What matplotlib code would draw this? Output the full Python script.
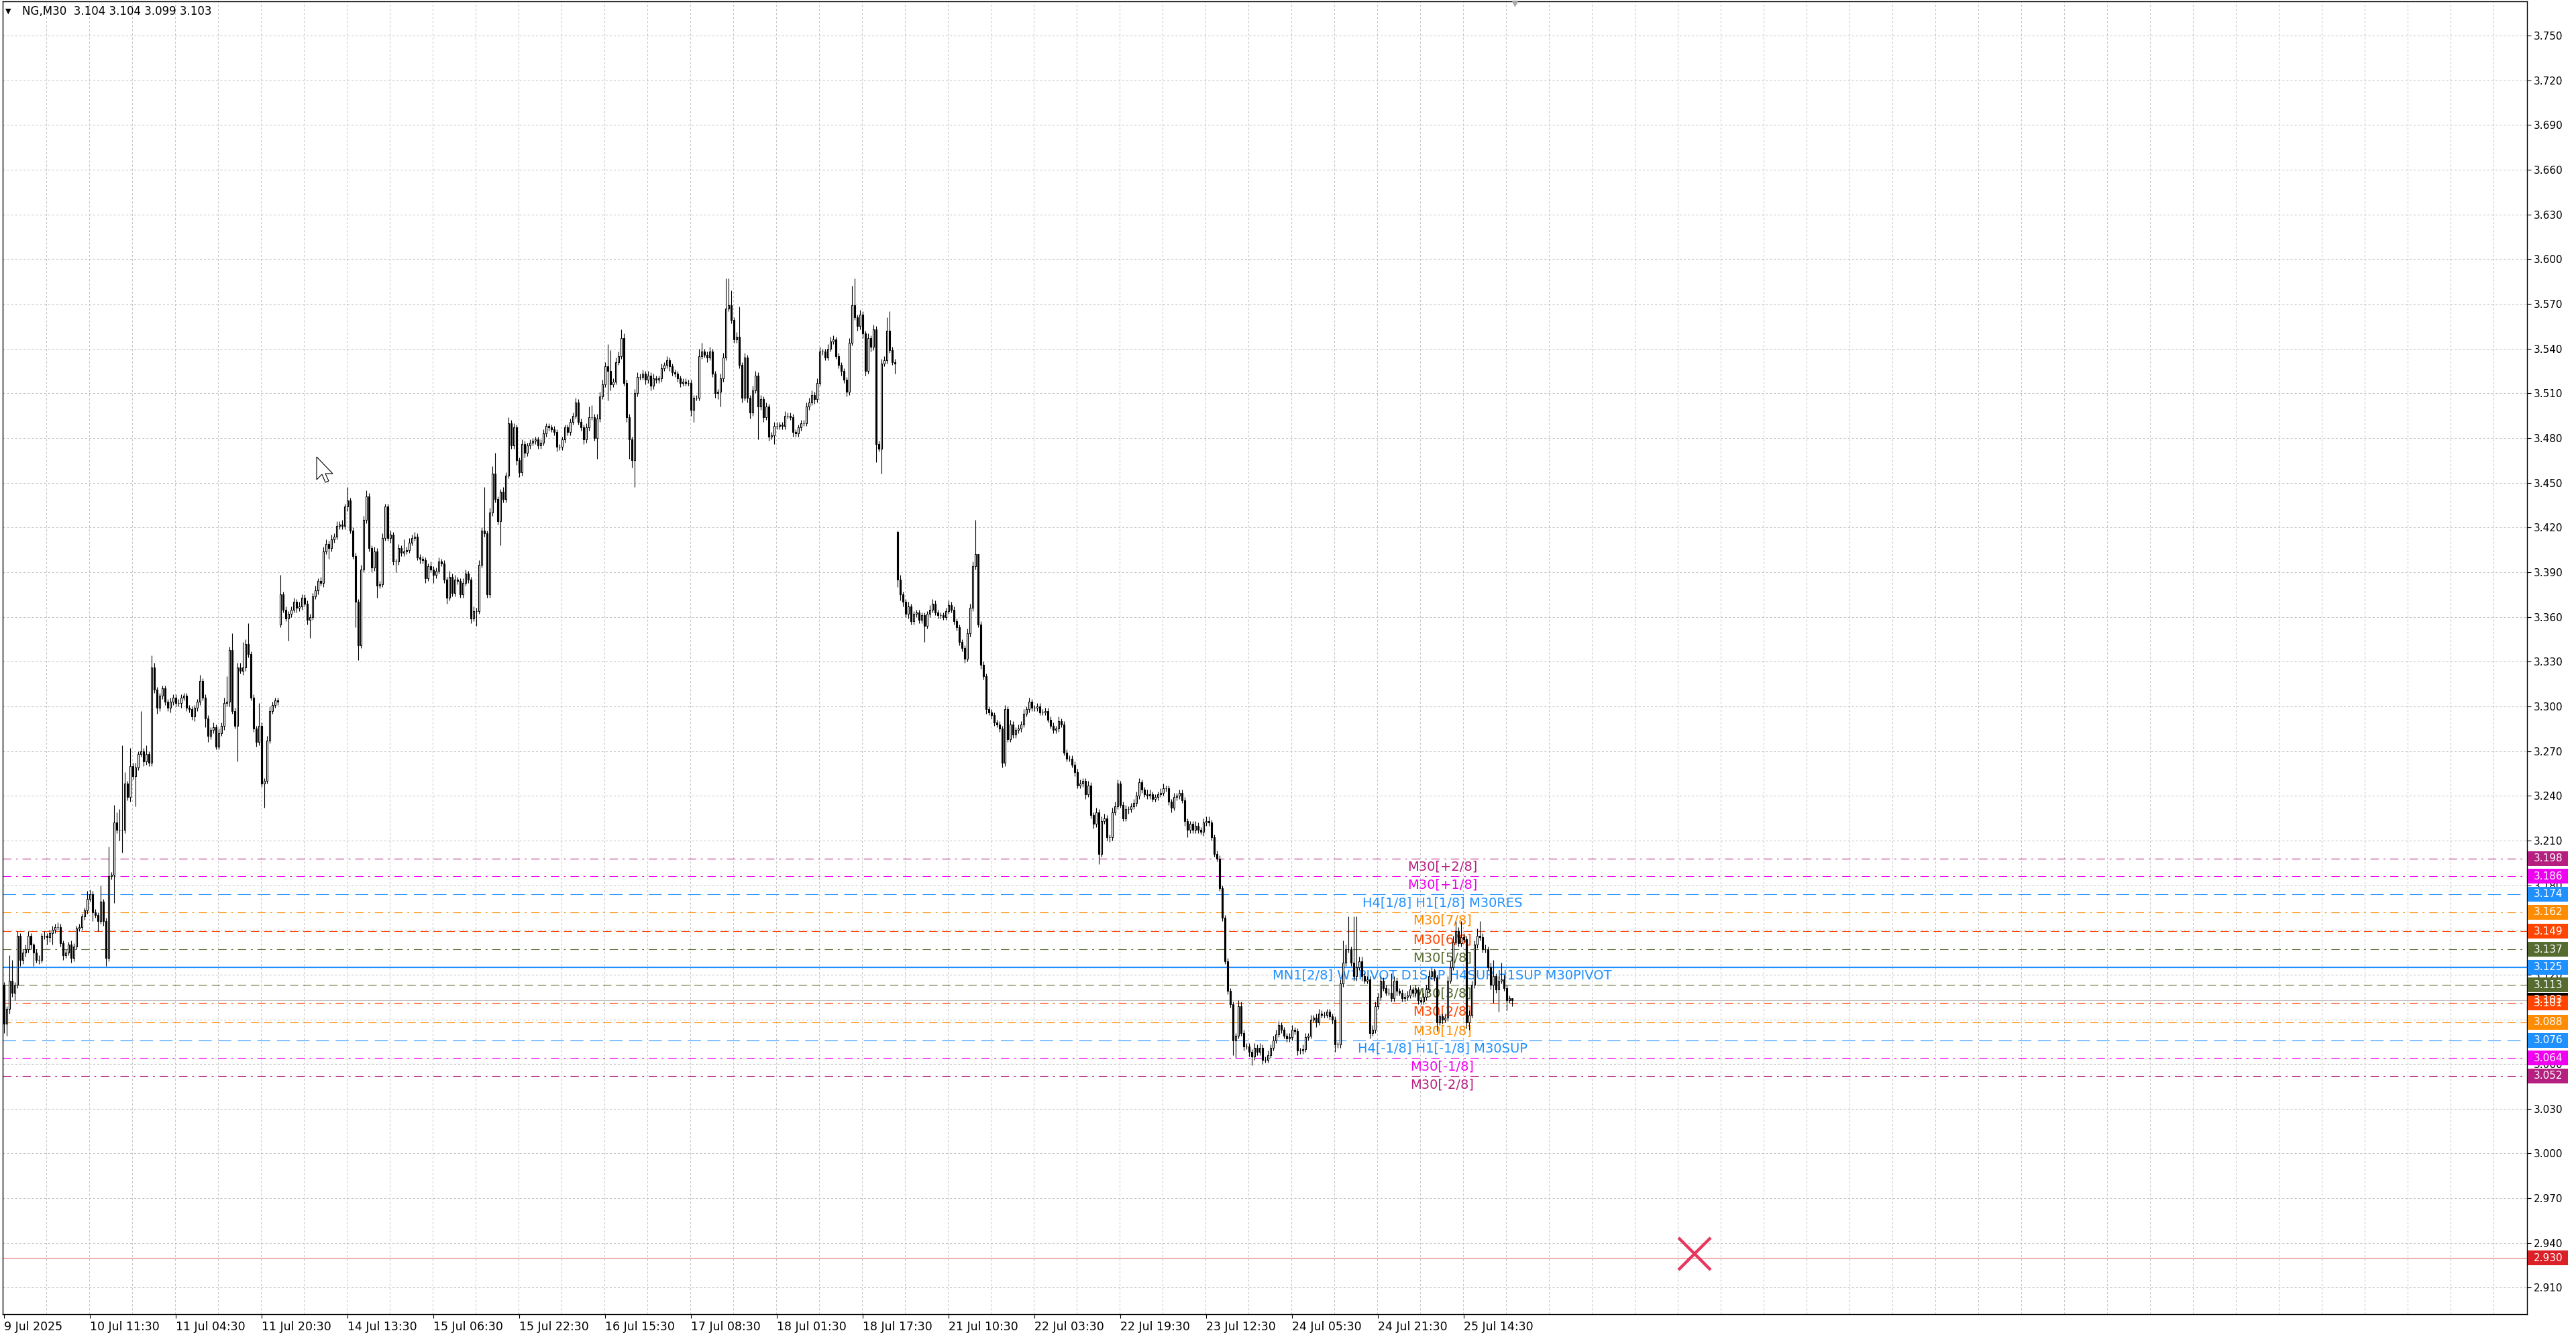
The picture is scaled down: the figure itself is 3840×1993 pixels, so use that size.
import numpy as np
import matplotlib
matplotlib.use("Agg")
import matplotlib.pyplot as plt
from matplotlib.patches import Rectangle, Polygon
from matplotlib.ticker import MultipleLocator, FormatStrFormatter
from matplotlib.transforms import blended_transform_factory, Affine2D

plt.rcParams['font.family'] = ['DejaVu Sans']
plt.rcParams['lines.scale_dashes'] = False

# NG,M30 closes, in thousandths (3087 -> 3.087)
closes = [
    3087, 3097, 3116, 3108, 3113, 3146, 3130, 3135, 3137, 3146,
    3140, 3135, 3130, 3130, 3146, 3146, 3145, 3148, 3150, 3152,
    3152, 3141, 3133, 3135, 3140, 3131, 3139, 3151, 3152, 3159,
    3163, 3171, 3174, 3162, 3160, 3156, 3169, 3156, 3131, 3186,
    3187, 3222, 3217, 3217, 3217, 3248, 3239, 3260, 3253, 3259,
    3268, 3270, 3263, 3268, 3262, 3326, 3311, 3299, 3307, 3312,
    3303, 3299, 3303, 3306, 3302, 3302, 3306, 3307, 3299, 3298,
    3293, 3299, 3303, 3317, 3306, 3292, 3280, 3284, 3286, 3273,
    3282, 3287, 3302, 3303, 3338, 3297, 3287, 3326, 3324, 3326,
    3342, 3335, 3306, 3285, 3276, 3287, 3248, 3250, 3277, 3297,
    3301, 3304, 3303, 3375, 3365, 3359, 3362, 3365, 3370, 3366,
    3367, 3373, 3369, 3358, 3360, 3374, 3378, 3384, 3383, 3404,
    3409, 3406, 3412, 3414, 3421, 3422, 3421, 3434, 3438, 3418,
    3401, 3370, 3341, 3392, 3425, 3441, 3406, 3393, 3404, 3381,
    3382, 3413, 3434, 3413, 3415, 3397, 3397, 3406, 3403, 3404,
    3405, 3410, 3413, 3414, 3400, 3399, 3398, 3386, 3394, 3392,
    3388, 3391, 3397, 3396, 3385, 3373, 3387, 3376, 3385, 3384,
    3375, 3383, 3389, 3385, 3359, 3364, 3364, 3395, 3418, 3416,
    3375, 3430, 3456, 3439, 3424, 3444, 3439, 3455, 3490, 3475,
    3487, 3465, 3457, 3476, 3470, 3475, 3477, 3478, 3479, 3475,
    3477, 3483, 3488, 3487, 3486, 3484, 3474, 3474, 3479, 3487,
    3484, 3491, 3495, 3504, 3491, 3487, 3479, 3487, 3494, 3494,
    3480, 3493, 3508, 3516, 3528, 3525, 3516, 3518, 3531, 3535,
    3547, 3517, 3494, 3479, 3465, 3510, 3521, 3521, 3523, 3519,
    3522, 3515, 3520, 3519, 3520, 3527, 3529, 3532, 3528, 3524,
    3523, 3520, 3517, 3518, 3517, 3517, 3499, 3507, 3507, 3535,
    3538, 3536, 3534, 3538, 3523, 3510, 3511, 3520, 3534, 3567,
    3569, 3559, 3546, 3548, 3529, 3507, 3534, 3507, 3497, 3512,
    3522, 3501, 3506, 3494, 3501, 3481, 3482, 3488, 3488, 3489,
    3488, 3495, 3495, 3494, 3484, 3483, 3487, 3490, 3490, 3501,
    3504, 3509, 3506, 3517, 3538, 3538, 3534, 3540, 3545, 3546,
    3535, 3529, 3525, 3519, 3511, 3544, 3569, 3561, 3555, 3563,
    3550, 3525, 3547, 3541, 3553, 3476, 3473, 3530, 3532, 3552,
    3539, 3531, 3530, 3385, 3375, 3370, 3362, 3367, 3357, 3362,
    3363, 3358, 3361, 3354, 3362, 3365, 3369, 3363, 3361, 3361,
    3360, 3364, 3368, 3365, 3357, 3353, 3343, 3339, 3332, 3349,
    3366, 3394, 3402, 3355, 3328, 3320, 3298, 3296, 3294, 3289,
    3288, 3285, 3262, 3298, 3278, 3288, 3281, 3284, 3285, 3288,
    3295, 3298, 3303, 3299, 3299, 3300, 3296, 3296, 3297, 3291,
    3287, 3284, 3285, 3290, 3288, 3269, 3265, 3265, 3261, 3256,
    3247, 3248, 3250, 3241, 3247, 3227, 3221, 3229, 3201, 3223,
    3225, 3212, 3212, 3229, 3233, 3248, 3234, 3225, 3231, 3231,
    3233, 3235, 3240, 3249, 3244, 3241, 3240, 3241, 3238, 3239,
    3241, 3242, 3245, 3245, 3236, 3232, 3239, 3240, 3242, 3237,
    3223, 3217, 3221, 3217, 3220, 3217, 3216, 3222, 3223, 3222,
    3212, 3201, 3198, 3178, 3158, 3129, 3109, 3100, 3076, 3079,
    3099, 3081, 3072, 3072, 3068, 3065, 3071, 3068, 3071, 3063,
    3063, 3066, 3071, 3076, 3080, 3086, 3083, 3079, 3077, 3078,
    3083, 3082, 3069, 3069, 3070, 3078, 3079, 3090, 3091, 3088,
    3094, 3093, 3093, 3095, 3092, 3090, 3073, 3073, 3114, 3128,
    3137, 3137, 3128, 3119, 3125, 3129, 3119, 3116, 3117, 3081,
    3083, 3099, 3105, 3116, 3111, 3108, 3108, 3104, 3116, 3109,
    3108, 3104, 3105, 3106, 3110, 3108, 3110, 3103, 3102, 3105,
    3110, 3119, 3122, 3118, 3088, 3092, 3090, 3091, 3116, 3125,
    3142, 3149, 3141, 3145, 3144, 3088, 3093, 3113, 3140, 3146,
    3145, 3137, 3137, 3125, 3113, 3119, 3110, 3116, 3117, 3111,
    3103, 3104, 3103,
]

# wick length above / below the body, thousandths
up_wick = [
    2, 2, 17, 14, 2, 3, 2, 2, 3, 3, 2, 1, 2, 3, 2, 3, 2, 2, 3, 2,
    3, 2, 2, 2, 2, 3, 2, 2, 2, 2, 2, 5, 3, 2, 2, 2, 11, 2, 2, 20,
    2, 12, 7, 14, 57, 8, 2, 12, 2, 3, 2, 27, 2, 6, 2, 8, 3, 2, 2, 2,
    2, 2, 3, 2, 2, 3, 2, 2, 2, 2, 2, 2, 2, 4, 2, 2, 2, 2, 3, 2,
    3, 2, 4, 17, 2, 11, 2, 3, 3, 17, 3, 14, 2, 2, 2, 15, 2, 2, 3, 3,
    2, 2, 2, 13, 2, 2, 2, 2, 3, 2, 3, 2, 2, 2, 2, 2, 3, 2, 3, 3,
    3, 2, 3, 2, 3, 2, 3, 2, 9, 2, 2, 2, 2, 3, 3, 4, 2, 2, 3, 2,
    2, 3, 2, 2, 3, 2, 2, 3, 2, 8, 2, 3, 2, 3, 2, 2, 2, 2, 2, 3,
    2, 2, 3, 2, 2, 2, 4, 2, 3, 2, 2, 3, 3, 2, 2, 3, 2, 3, 2, 29,
    2, 3, 5, 14, 2, 2, 3, 2, 4, 2, 3, 2, 2, 3, 2, 2, 2, 2, 2, 2,
    2, 3, 2, 2, 2, 2, 2, 2, 2, 2, 2, 2, 2, 3, 2, 2, 2, 3, 7, 8,
    2, 3, 3, 3, 3, 15, 14, 2, 3, 3, 6, 3, 2, 2, 2, 3, 3, 2, 3, 2,
    3, 2, 3, 2, 2, 3, 2, 3, 2, 2, 2, 2, 2, 2, 2, 2, 2, 2, 2, 5,
    6, 2, 2, 3, 2, 2, 2, 3, 3, 20, 18, 10, 2, 3, 20, 2, 3, 2, 2, 3,
    3, 2, 3, 2, 3, 2, 2, 3, 3, 2, 2, 3, 2, 2, 2, 2, 2, 2, 2, 3,
    3, 3, 2, 3, 3, 2, 2, 3, 3, 3, 2, 2, 2, 2, 2, 3, 13, 18, 2, 3,
    2, 2, 3, 2, 3, 2, 2, 3, 3, 9, 13, 2, 2, 1, 3, 2, 2, 3, 2, 2,
    2, 2, 2, 2, 2, 3, 3, 2, 2, 2, 2, 2, 3, 2, 2, 2, 2, 2, 2, 3,
    3, 3, 23, 0, 2, 2, 2, 2, 2, 2, 2, 2, 2, 3, 2, 3, 2, 2, 3, 2,
    3, 2, 3, 2, 2, 2, 2, 2, 2, 2, 2, 2, 2, 3, 2, 2, 2, 2, 2, 2,
    2, 3, 2, 2, 3, 2, 2, 3, 2, 3, 3, 2, 2, 3, 3, 3, 2, 2, 3, 2,
    2, 3, 3, 3, 2, 2, 3, 3, 2, 2, 2, 3, 3, 2, 2, 2, 3, 2, 2, 2,
    2, 2, 2, 2, 3, 2, 2, 3, 3, 3, 2, 2, 2, 2, 2, 2, 2, 2, 2, 2,
    4, 3, 2, 2, 2, 2, 3, 2, 3, 2, 2, 3, 2, 3, 3, 3, 2, 2, 2, 3,
    3, 2, 2, 2, 3, 3, 2, 3, 2, 3, 3, 2, 2, 2, 2, 2, 2, 2, 3, 15,
    3, 22, 2, 31, 34, 3, 3, 2, 2, 2, 3, 3, 3, 3, 2, 2, 3, 13, 3, 2,
    2, 2, 3, 3, 3, 2, 3, 2, 2, 3, 3, 3, 3, 2, 2, 2, 2, 3, 3, 4,
    4, 7, 3, 11, 3, 2, 3, 3, 3, 5, 10, 3, 3, 2, 3, 11, 2, 3, 11, 3,
    2, 2, 0,
]
dn_wick = [
    6, 8, 3, 3, 5, 2, 4, 3, 3, 2, 3, 9, 2, 3, 2, 2, 5, 3, 8, 2,
    2, 2, 3, 2, 2, 3, 2, 2, 2, 2, 2, 2, 2, 6, 2, 7, 2, 3, 5, 2,
    2, 19, 2, 7, 15, 2, 2, 3, 2, 20, 2, 2, 3, 2, 2, 2, 2, 4, 2, 2,
    2, 2, 3, 2, 2, 2, 3, 2, 2, 2, 2, 3, 2, 2, 2, 6, 4, 2, 2, 2,
    2, 2, 3, 2, 3, 2, 2, 24, 2, 3, 2, 2, 2, 2, 3, 2, 2, 16, 2, 2,
    2, 2, 2, 2, 2, 2, 15, 2, 2, 3, 2, 2, 2, 3, 12, 2, 2, 3, 2, 3,
    2, 7, 2, 2, 2, 2, 2, 2, 3, 2, 2, 17, 10, 2, 2, 2, 2, 3, 2, 8,
    2, 2, 2, 2, 3, 2, 7, 2, 2, 2, 2, 2, 2, 2, 2, 3, 2, 3, 2, 2,
    5, 2, 2, 2, 2, 4, 2, 2, 2, 2, 2, 2, 2, 2, 3, 2, 10, 2, 2, 2,
    2, 2, 2, 2, 2, 16, 2, 2, 2, 2, 2, 3, 3, 2, 3, 2, 2, 2, 2, 2,
    2, 2, 2, 2, 2, 2, 3, 2, 2, 2, 2, 2, 2, 2, 2, 2, 3, 2, 2, 2,
    2, 14, 2, 2, 2, 20, 4, 2, 2, 2, 2, 2, 3, 13, 5, 18, 2, 2, 2, 3,
    2, 3, 2, 2, 2, 2, 2, 2, 3, 2, 2, 2, 3, 2, 2, 2, 4, 8, 2, 2,
    2, 2, 3, 2, 2, 3, 4, 10, 2, 2, 2, 2, 2, 2, 2, 3, 2, 3, 4, 2,
    2, 22, 2, 3, 2, 3, 2, 6, 2, 2, 2, 2, 2, 2, 3, 2, 2, 2, 2, 2,
    2, 2, 3, 2, 2, 2, 2, 2, 2, 2, 2, 2, 3, 2, 3, 2, 2, 2, 3, 2,
    3, 3, 2, 3, 2, 12, 2, 17, 2, 2, 2, 2, 7, 5, 4, 3, 2, 3, 2, 2,
    2, 2, 2, 11, 2, 2, 2, 2, 2, 2, 2, 2, 2, 2, 2, 2, 2, 2, 3, 2,
    2, 2, 2, 2, 3, 2, 3, 2, 2, 2, 2, 2, 3, 2, 2, 2, 2, 2, 2, 2,
    2, 2, 2, 2, 2, 2, 2, 2, 2, 2, 2, 2, 2, 2, 2, 2, 2, 2, 2, 3,
    2, 2, 2, 3, 2, 2, 3, 2, 7, 2, 2, 2, 3, 2, 2, 2, 2, 2, 2, 3,
    2, 2, 2, 2, 2, 2, 2, 2, 2, 2, 2, 2, 2, 2, 2, 3, 2, 2, 2, 2,
    3, 5, 2, 2, 2, 2, 2, 3, 2, 2, 2, 2, 2, 2, 2, 2, 2, 2, 10, 12,
    2, 2, 3, 2, 3, 6, 2, 2, 2, 3, 2, 2, 2, 2, 2, 2, 2, 2, 2, 2,
    2, 2, 3, 2, 2, 2, 2, 2, 2, 3, 2, 2, 2, 2, 2, 3, 5, 2, 2, 2,
    2, 2, 2, 3, 3, 2, 3, 2, 2, 4, 2, 2, 2, 2, 2, 2, 2, 2, 2, 3,
    2, 2, 2, 2, 2, 3, 2, 3, 2, 2, 2, 2, 2, 2, 6, 2, 3, 2, 2, 2,
    2, 2, 2, 2, 2, 4, 5, 2, 2, 2, 2, 2, 2, 2, 3, 12, 2, 15, 2, 2,
    7, 2, 4,
]

first_open = 3113
gap_opens = {103: 3355, 333: 3417}   # weekend gaps

time_labels = ["9 Jul 2025", "10 Jul 11:30", "11 Jul 04:30", "11 Jul 20:30",
               "14 Jul 13:30", "15 Jul 06:30", "15 Jul 22:30", "16 Jul 15:30",
               "17 Jul 08:30", "18 Jul 01:30", "18 Jul 17:30", "21 Jul 10:30",
               "22 Jul 03:30", "22 Jul 19:30", "23 Jul 12:30", "24 Jul 05:30",
               "24 Jul 21:30", "25 Jul 14:30"]

level_prices = [3.198, 3.186, 3.174, 3.162, 3.149, 3.137, 3.125,
                3.113, 3.101, 3.088, 3.076, 3.064, 3.052]
level_names = ["M30[+2/8]", "M30[+1/8]", "H4[1/8] H1[1/8] M30RES", "M30[7/8]",
               "M30[6/8]", "M30[5/8]", "MN1[2/8] W1PIVOT D1SUP H4SUP H1SUP M30PIVOT",
               "M30[3/8]", "M30[2/8]", "M30[1/8]", "H4[-1/8] H1[-1/8] M30SUP",
               "M30[-1/8]", "M30[-2/8]"]
level_colors = ["#B51F80", "#F000F0", "#1E90FF", "#FF8C00", "#FF4500", "#556B2F",
                "#1E90FF", "#556B2F", "#FF4500", "#FF8C00", "#1E90FF", "#F000F0",
                "#B51F80"]
level_styles = ["dashdot", "dashdot", "longdash", "dashdot", "dash", "dashdot",
                "solid", "dash", "dashdot", "dash", "longdash", "dashdot", "dashdot"]

bid_price = 3.103
alert_price = 2.930

dash_map = {"dashdot": (9, 5, 2, 5), "dash": (9, 5), "longdash": (14, 7)}

c = np.array(closes) / 1000.0
o = np.r_[first_open, closes[:-1]] / 1000.0
for i, v in gap_opens.items():
    o[i] = v / 1000.0
hi = np.maximum(o, c) + np.array(up_wick) / 1000.0
lo = np.minimum(o, c) - np.array(dn_wick) / 1000.0
x = np.arange(len(c))

W, H = 3840, 1993
fig = plt.figure(figsize=(W / 100, H / 100), dpi=100)
ax = fig.add_axes([4 / W, 34 / H, 3763 / W, 1957 / H])

# candles
ax.vlines(x, lo, hi, color='black', lw=0.8, zorder=3)
face = np.where(c >= o, 'white', 'black')
ax.bar(x, c - o, bottom=o, width=0.6, color=face, edgecolor='black', linewidth=0.8, zorder=4)

ax.set_xlim(-0.5, 940.25)
ax.set_ylim(2.8922, 3.7730)

ax.yaxis.set_major_locator(MultipleLocator(0.030))
ax.yaxis.set_major_formatter(FormatStrFormatter('%.3f'))
ax.yaxis.tick_right()
ax.tick_params(axis='y', length=4, width=0.8, pad=3, labelsize=11)
ax.set_xticks(np.arange(0, 32 * len(time_labels), 32))
ax.set_xticklabels(time_labels)
for t in ax.get_xticklabels():
    t.set_horizontalalignment('left')
ax.tick_params(axis='x', length=4, width=0.8, pad=3, labelsize=12.5)
for s in ax.spines.values():
    s.set_linewidth(1.0)
    s.set_color('black')

# grid
ax.grid(axis='y', color='#C4C4C4', lw=0.75, dashes=(2.2, 2.2), zorder=0.5)
for k in range(1, 60):
    ax.axvline(16 * k - 0.25, color='#C4C4C4', lw=0.75, dashes=(2.2, 2.2), zorder=0.5)
ax.set_axisbelow(True)

# levels
for p, name, col, st in zip(level_prices, level_names, level_colors, level_styles):
    if st == "solid":
        ax.axhline(p, color=col, lw=1.6, zorder=1)
    else:
        ax.axhline(p, color=col, lw=0.8, dashes=dash_map[st], zorder=1)
    ax.text(536, p - 0.0057, name, color=col, fontsize=14, ha='center', va='center', zorder=2)

ax.axhline(bid_price, color='#C0C0C0', lw=0.8, zorder=1)
ax.axhline(alert_price, color='#E07070', lw=0.8, zorder=1)

# price boxes on the right axis
tr = blended_transform_factory(ax.transAxes, ax.transData)
boxes = [(bid_price, 'black')] + list(zip(level_prices, level_colors)) + [(alert_price, '#DC2028')]
for p, col in boxes:
    ax.add_patch(Rectangle((1.0003, p - 0.00495), 0.0160, 0.0099, transform=tr,
                           facecolor=col, edgecolor='none', clip_on=False, zorder=6))
    ax.text(1.0083, p, f"{p:.3f}", transform=tr, color='white', fontsize=11,
            ha='center', va='center', clip_on=False, zorder=7)

# alert cross and shift marker
ax.plot(630, 2.9327, marker='x', ms=35, mew=3.2, color='#E8365D', zorder=5)
ax.plot(563, 3.7715, marker='v', ms=6, color='#A8A8A8', clip_on=False, zorder=5)

# header
fig.text(8 / W, 1 - 17 / H, "▼", fontsize=8, va='center', ha='left')
fig.text(33 / W, 1 - 17 / H, "NG,M30  3.104 3.104 3.099 3.103", fontsize=12, va='center', ha='left')

# mouse pointer
ptr = [(0, 0), (0, -34), (8, -26), (13, -38), (18, -36), (13, -25), (24, -25)]
fig.add_artist(Polygon(ptr, closed=True, facecolor='white', edgecolor='black', lw=0.8,
                       transform=Affine2D().translate(472, H - 681)))

fig.savefig("out.png", dpi=100)
